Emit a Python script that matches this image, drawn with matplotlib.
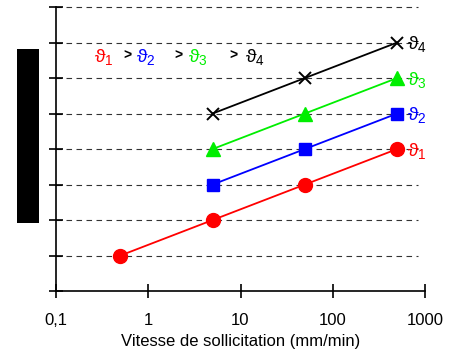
import matplotlib
matplotlib.use("Agg")
import matplotlib.pyplot as plt
from matplotlib.patches import Rectangle

plt.rcParams['font.family'] = ['Liberation Sans', 'DejaVu Sans']
plt.rcParams['mathtext.fontset'] = 'custom'
plt.rcParams['mathtext.rm'] = 'Liberation Sans'

speeds_red = [0.5, 5, 50, 500]
vals_red = [1, 2, 3, 4]
speeds = [5, 50, 500]
vals_blue = [3, 4, 5]
vals_green = [4, 5, 6]
vals_black = [5, 6, 7]
xticks = [0.1, 1, 10, 100, 1000]
xtick_labels = ["0,1", "1", "10", "100", "1000"]
series_labels = ["ϑ$_1$", "ϑ$_2$", "ϑ$_3$", "ϑ$_4$"]

RED, BLUE, GREEN, BLACK = "#ff0000", "#0000ff", "#00ee00", "#000000"

fig = plt.figure(figsize=(4.51, 3.56), dpi=100)
ax = fig.add_axes([56/451, 1-291/356, (425-56)/451, (291-7)/356])

ax.set_xscale('log')
ax.set_xlim(0.1, 1000)
ax.set_ylim(0, 8)

for y in range(1, 9):
    ax.plot([0.1, 840], [y, y], color='#333333', lw=0.8, dashes=(5, 4), zorder=1, clip_on=False)

ax.plot(speeds_red, vals_red, color=RED, lw=1.3, marker='o', ms=10, zorder=3)
ax.plot(speeds, vals_blue, color=BLUE, lw=1.3, marker='s', ms=9, zorder=3)
ax.plot(speeds, vals_green, color=GREEN, lw=1.3, marker='^', ms=10, zorder=3)
ax.plot(speeds, vals_black, color=BLACK, lw=1.3, marker='x', ms=9, mew=1.4, zorder=3)

ends = [vals_red[-1], vals_blue[-1], vals_green[-1], vals_black[-1]]
cols = [RED, BLUE, GREEN, BLACK]
for lab, yv, c in zip(series_labels, ends, cols):
    ax.annotate(lab, (500, yv), xytext=(7, -2), textcoords='offset points',
                color=c, fontsize=14, va='center', ha='left', annotation_clip=False)

# ordering annotation
xs_px = [94, 136, 188, 245]
for i, (lab, c) in enumerate(zip(series_labels, cols)):
    fig.text(xs_px[i]/451, 1-58/356, lab, color=c, fontsize=14, va='center', ha='left')
for xp in [123, 174, 229]:
    fig.text(xp/451, 1-56/356, ">", color='black', fontsize=10, fontweight='bold', va='center', ha='left')

ax.spines['top'].set_visible(False)
ax.spines['right'].set_visible(False)
for s in ['left', 'bottom']:
    ax.spines[s].set_linewidth(1.2)
ax.set_xticks(xticks)
ax.set_xticklabels(xtick_labels)
ax.xaxis.set_minor_locator(matplotlib.ticker.NullLocator())
ax.set_yticks(range(0, 9))
ax.set_yticklabels([])
ax.tick_params(axis='both', direction='inout', length=10, width=1.2, labelsize=12)
ax.tick_params(axis='x', pad=11)
ax.set_xlabel("Vitesse de sollicitation (mm/min)", fontsize=12, labelpad=4)

fig.patches.append(Rectangle((17/451, 1-223/356), 22/451, 174/356, transform=fig.transFigure,
                             facecolor='black', edgecolor='none'))

fig.savefig("out.png", dpi=100)
